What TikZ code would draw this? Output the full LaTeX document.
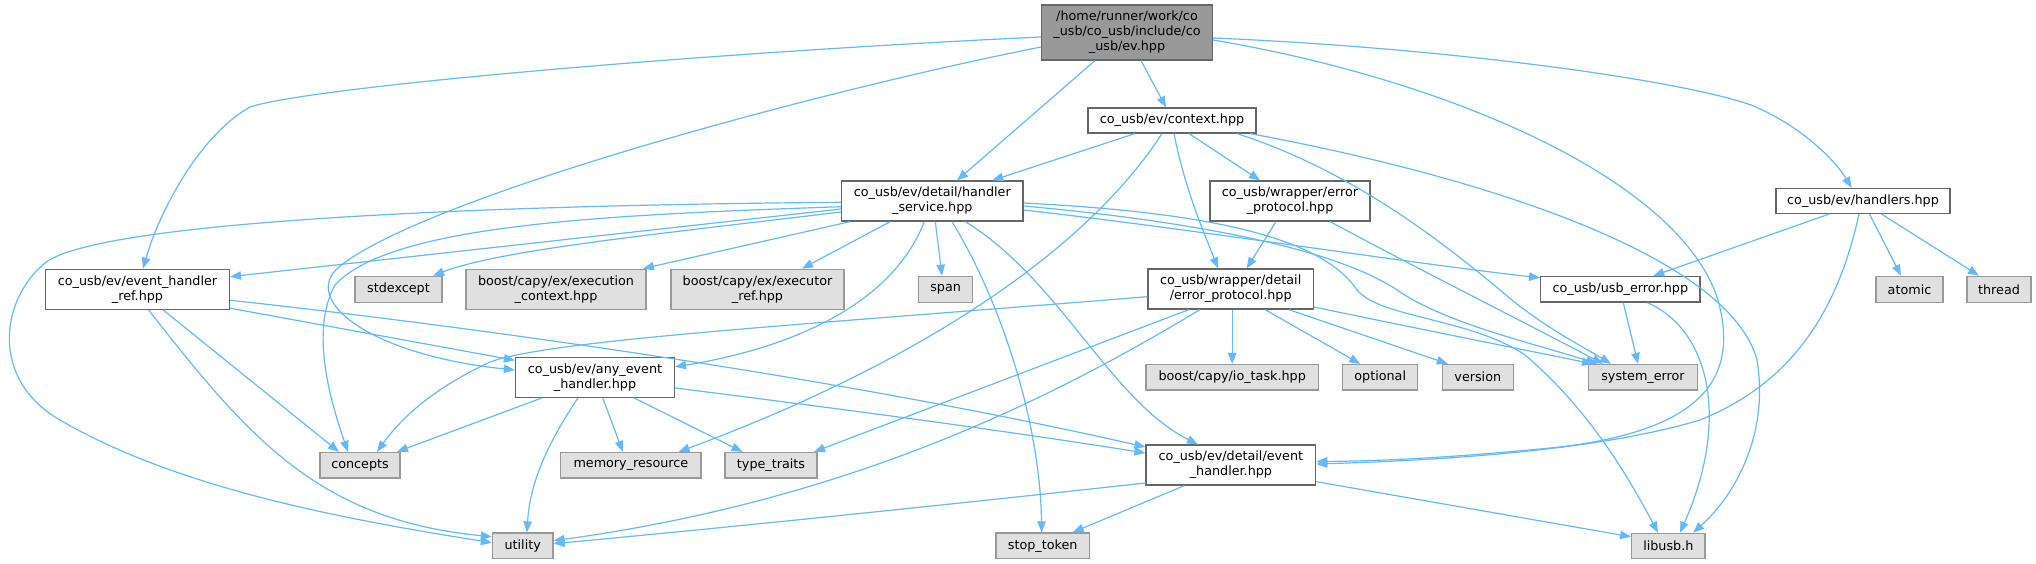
\documentclass[tikz,border=0pt]{standalone}
\usepackage{fontspec}
\setmainfont{DejaVu Sans}
\usetikzlibrary{arrows.meta}
\definecolor{edgec}{HTML}{63B8FF}
\definecolor{greyfill}{HTML}{E0E0E0}
\definecolor{greybd}{HTML}{999999}
\definecolor{darkbd}{HTML}{666666}
\definecolor{rootfill}{HTML}{999999}
\newcommand{\dgfont}{\fontsize{12.75pt}{15pt}\selectfont}
\tikzset{
 base/.style={inner sep=0pt, align=center, font=\dgfont, line width=1.2pt},
 wbox/.style={base, draw=darkbd, fill=white},
 gbox/.style={base, draw=greybd, fill=greyfill},
 rbox/.style={base, draw=darkbd, fill=rootfill},
 sz/.style 2 args={minimum width=#1pt, minimum height=#2pt},
 dep/.style={draw=edgec, line width=1.2pt, -{Triangle[length=11pt,width=8.5pt]}},
}
\begin{document}
\begin{tikzpicture}[x=1pt,y=-1pt]
\useasboundingbox (0,0) rectangle (2036,564);
% nodes
\node[rbox,sz={171}{55}] (root) at (1127,32.5) {/home/runner/work/co\\\_usb/co\_usb/include/co\\\_usb/ev.hpp};
\node[wbox,sz={168}{25}] (context) at (1172,120.5) {co\_usb/ev/context.hpp};
\node[wbox,sz={181.4}{40}] (hs) at (932.3,201) {co\_usb/ev/detail/handler\\\_service.hpp};
\node[wbox,sz={160}{40}] (wep) at (1290,201) {co\_usb/wrapper/error\\\_protocol.hpp};
\node[wbox,sz={174}{25}] (handlers) at (1863,201) {co\_usb/ev/handlers.hpp};
\node[wbox,sz={184}{40}] (ehr) at (137.5,289.2) {co\_usb/ev/event\_handler\\\_ref.hpp};
\node[gbox,sz={87}{26}] (stdexcept) at (398.5,289.3) {stdexcept};
\node[gbox,sz={180}{40}] (exctx) at (556,289.2) {boost/capy/ex/execution\\\_context.hpp};
\node[gbox,sz={173}{40}] (exref) at (757.5,289.2) {boost/capy/ex/executor\\\_ref.hpp};
\node[gbox,sz={54}{26}] (span) at (945.6,289.3) {span};
\node[wbox,sz={165.5}{40}] (wdep) at (1230.7,289) {co\_usb/wrapper/detail\\/error\_protocol.hpp};
\node[wbox,sz={159.3}{25.5}] (usb) at (1620.3,289.3) {co\_usb/usb\_error.hpp};
\node[gbox,sz={67}{26}] (atomic) at (1909.5,289.3) {atomic};
\node[gbox,sz={64}{26}] (thread) at (1999,289.3) {thread};
\node[wbox,sz={159}{40}] (aeh) at (595,377.3) {co\_usb/ev/any\_event\\\_handler.hpp};
\node[gbox,sz={172.4}{25.5}] (iotask) at (1232.2,377.3) {boost/capy/io\_task.hpp};
\node[gbox,sz={75}{25.5}] (optional) at (1380.2,377.2) {optional};
\node[gbox,sz={71}{25.5}] (version) at (1477.8,377.2) {version};
\node[gbox,sz={108.6}{25.5}] (syserr) at (1643,377.2) {system\_error};
\node[gbox,sz={80}{25.5}] (concepts) at (360,465.2) {concepts};
\node[gbox,sz={140.3}{25.5}] (memres) at (630.9,465.2) {memory\_resource};
\node[gbox,sz={92}{25.5}] (typetraits) at (771,465.2) {type\_traits};
\node[wbox,sz={169.7}{40}] (eh) at (1230.9,465) {co\_usb/ev/detail/event\\\_handler.hpp};
\node[gbox,sz={60.6}{25.5}] (utility) at (522.7,545.7) {utility};
\node[gbox,sz={93.4}{25.5}] (stoptoken) at (1042.7,545.7) {stop\_token};
\node[gbox,sz={73.3}{25}] (libusb) at (1668.3,545.8) {libusb.h};
% root edges
\draw[dep] ([yshift=-4.5pt]root.west) .. controls (700,53) and (310,87) .. (250,107) .. controls (200,135) and (160,210) .. ([xshift=5.5pt]ehr.north);
\draw[dep] ([yshift=-14.5pt]root.west) .. controls (800,95) and (420,200) .. (339,267) .. controls (300,300) and (370,355) .. ([yshift=7.3pt]aeh.west);
\draw[dep] ([xshift=-32pt]root.south) -- ([xshift=24.7pt]hs.north);
\draw[dep] ([xshift=14pt]root.south) -- ([xshift=-6pt]context.north);
\draw[dep] ([yshift=-5.5pt]root.east) .. controls (1450,48) and (1680,80) .. (1751,105) .. controls (1800,125) and (1835,160) .. ([xshift=-11.4pt]handlers.north);
\draw[dep] ([yshift=-7.5pt]root.east) .. controls (1450,80) and (1680,180) .. (1718,300) .. controls (1740,380) and (1700,430) .. (1560,447) .. controls (1450,458) and (1380,461) .. ([yshift=3.5pt]eh.east);
% context edges
\draw[dep] ([xshift=-37pt]context.south) -- ([xshift=60pt]hs.north);
\draw[dep] ([xshift=-10pt]context.south) .. controls (1080,260) and (900,370) .. ([xshift=47.7pt]memres.north);
\draw[dep] ([xshift=2pt]context.south) .. controls (1185,190) and (1205,235) .. ([xshift=-12.7pt]wdep.north);
\draw[dep] ([xshift=17pt]context.south) -- ([xshift=-30pt]wep.north);
\draw[dep] ([xshift=65pt]context.south) .. controls (1350,170) and (1440,240) .. (1500,290) .. controls (1540,325) and (1580,345) .. ([xshift=-32pt]syserr.north);
\draw[dep] ([xshift=78pt]context.south) .. controls (1500,180) and (1730,260) .. (1757,360) .. controls (1770,440) and (1730,500) .. ([xshift=24.7pt]libusb.north);
% wrapper error protocol
\draw[dep] ([xshift=-14pt]wep.south) -- ([xshift=16pt]wdep.north);
\draw[dep] ([xshift=40pt]wep.south) .. controls (1420,270) and (1520,320) .. ([xshift=-40pt]syserr.north);
% handlers
\draw[dep] ([xshift=-34pt]handlers.south) -- ([xshift=33pt]usb.north);
\draw[dep] ([xshift=6.5pt]handlers.south) -- ([xshift=-8.5pt]atomic.north);
\draw[dep] ([xshift=18.5pt]handlers.south) -- ([xshift=-20pt]thread.north);
\draw[dep] ([xshift=-4pt]handlers.south) .. controls (1840,300) and (1800,380) .. (1700,420) .. controls (1600,450) and (1450,460) .. ([yshift=1pt]eh.east);
% usb_error
\draw[dep] ([xshift=3pt]usb.south) -- ([xshift=-5pt]syserr.north);
\draw[dep] ([xshift=27pt]usb.south) .. controls (1710,330) and (1730,420) .. ([xshift=11.7pt]libusb.north);
% handler_service
\draw[dep] ([yshift=-8pt]hs.west) -- ([yshift=12.5pt]ehr.east);
\draw[dep] ([yshift=-11pt]hs.west) .. controls (650,235) and (500,250) .. ([xshift=34.5pt]stdexcept.north);
\draw[dep] ([xshift=-82pt]hs.south) -- ([xshift=87pt]exctx.north);
\draw[dep] ([xshift=-42pt]hs.south) -- ([xshift=44.5pt]exref.north);
\draw[dep] ([xshift=3pt]hs.south) -- ([xshift=-3.6pt]span.north);
\draw[dep] ([xshift=19.7pt]hs.south) .. controls (1000,300) and (1040,420) .. ([xshift=-1pt]stoptoken.north);
\draw[dep] ([xshift=33pt]hs.south) .. controls (1060,280) and (1110,400) .. ([xshift=-33pt]eh.north);
\draw[dep] ([xshift=-8pt]hs.south) .. controls (890,310) and (780,350) .. ([yshift=10.5pt]aeh.east);
\draw[dep] ([yshift=-5.7pt]hs.west) .. controls (600,215) and (390,225) .. (335,285) .. controls (310,330) and (330,400) .. ([xshift=-12pt]concepts.north);
\draw[dep] ([yshift=-1.3pt]hs.west) .. controls (500,205) and (100,220) .. (45,263) .. controls (0,300) and (-10,380) .. (60,420) .. controls (180,490) and (350,520) .. ([yshift=3pt]utility.west);
\draw[dep] ([yshift=-9pt]hs.east) .. controls (1200,230) and (1400,262) .. ([yshift=11.5pt]usb.west);
\draw[dep] ([yshift=-5pt]hs.east) .. controls (1200,222) and (1340,250) .. (1400,292) .. controls (1450,325) and (1540,345) .. ([xshift=-46pt]syserr.north);
\draw[dep] ([yshift=-2pt]hs.east) .. controls (1200,212) and (1320,235) .. (1357,290) .. controls (1380,318) and (1470,318) .. (1525,355) .. controls (1590,410) and (1630,480) .. ([xshift=-10.3pt]libusb.north);
% event_handler_ref
\draw[dep] ([xshift=25.5pt]ehr.south) -- ([xshift=-21pt]concepts.north);
\draw[dep] ([xshift=11pt]ehr.south) .. controls (250,440) and (320,520) .. ([yshift=9pt]utility.west);
\draw[dep] ([yshift=-19pt]ehr.east) -- ([yshift=17pt]aeh.west);
\draw[dep] ([yshift=-11pt]ehr.east) .. controls (500,330) and (850,380) .. ([yshift=18pt]eh.west);
% any_event_handler
\draw[dep] ([xshift=-53pt]aeh.south) -- ([xshift=37pt]concepts.north);
\draw[dep] ([xshift=7.7pt]aeh.south) -- ([xshift=-8pt]memres.north);
\draw[dep] ([xshift=39pt]aeh.south) -- ([xshift=-28.5pt]typetraits.north);
\draw[dep] ([xshift=-17pt]aeh.south) .. controls (550,440) and (530,480) .. ([xshift=4.3pt]utility.north);
\draw[dep] ([yshift=-10.7pt]aeh.east) .. controls (850,410) and (1000,430) .. ([yshift=12pt]eh.west);
% wrapper detail error protocol
\draw[dep] ([yshift=-7.7pt]wdep.west) .. controls (800,325) and (550,340) .. (490,362) .. controls (430,390) and (400,420) .. ([xshift=17pt]concepts.north);
\draw[dep] ([xshift=-41.7pt]wdep.south) -- ([xshift=43pt]typetraits.north);
\draw[dep] ([xshift=-30.7pt]wdep.south) .. controls (1050,400) and (850,500) .. ([yshift=5pt]utility.east);
\draw[dep] ([xshift=1.5pt]wdep.south) -- (iotask.north);
\draw[dep] ([xshift=34.3pt]wdep.south) -- ([xshift=-20pt]optional.north);
\draw[dep] ([xshift=58pt]wdep.south) -- ([xshift=-30pt]version.north);
\draw[dep] ([yshift=-18pt]wdep.east) .. controls (1400,325) and (1500,345) .. ([xshift=-50pt]syserr.north);
% event_handler
\draw[dep] ([yshift=-18pt]eh.west) .. controls (900,510) and (700,530) .. ([yshift=2pt]utility.east);
\draw[dep] ([xshift=-46.4pt]eh.south) -- ([xshift=30pt]stoptoken.north);
\draw[dep] ([yshift=-16.7pt]eh.east) -- ([yshift=9pt]libusb.west);
\end{tikzpicture}
\end{document}
